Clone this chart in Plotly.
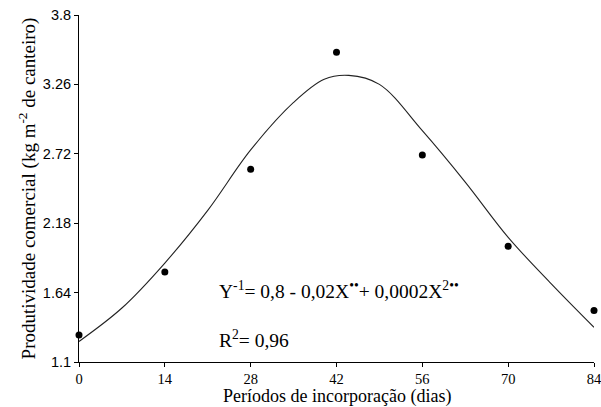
import plotly.graph_objects as go

# observed values (days, yield)
dias = [0, 14, 28, 42, 56, 70, 84]
produtividade = [1.31, 1.80, 2.60, 3.51, 2.71, 2.00, 1.50]

# fitted curve
dias_curva = [0, 7, 14, 21, 28, 35, 40, 44, 49, 56, 63, 70, 77, 84]
prod_curva = [1.26, 1.52, 1.87, 2.28, 2.75, 3.12, 3.30, 3.33, 3.26, 2.90, 2.50, 2.07, 1.71, 1.37]

x_ticks = [0, 14, 28, 42, 56, 70, 84]
y_ticks = [1.1, 1.64, 2.18, 2.72, 3.26, 3.8]

fig = go.Figure()

fig.add_trace(go.Scatter(
    x=dias_curva, y=prod_curva,
    mode='lines', line=dict(color='#222222', width=1.1, shape='spline', smoothing=1.0),
    showlegend=False, hoverinfo='skip',
))

fig.add_trace(go.Scatter(
    x=dias, y=produtividade,
    mode='markers', marker=dict(color='black', size=7),
    cliponaxis=False, showlegend=False,
))

serif = 'Liberation Serif, Times New Roman, serif'
sans = 'Liberation Sans, Arial, sans-serif'

fig.add_annotation(
    x=22.5, y=1.66, xref='x', yref='y', xanchor='left', showarrow=False,
    text='Y<sup>-1</sup>= 0,8 - 0,02X<sup>••</sup>+ 0,0002X<sup>2••</sup>',
    font=dict(family=serif, size=19.5, color='black'),
)
fig.add_annotation(
    x=22.5, y=1.28, xref='x', yref='y', xanchor='left', showarrow=False,
    text='R<sup>2</sup>= 0,96',
    font=dict(family=serif, size=19.5, color='black'),
)
# x axis title as annotation so it sits clear of the tick labels
fig.add_annotation(
    x=0.5, y=-0.10, xref='paper', yref='paper', xanchor='center', yanchor='middle',
    showarrow=False, text='Períodos de incorporação (dias)', borderpad=0,
    font=dict(family=serif, size=18, color='black'),
)

fig.update_layout(
    width=601, height=407,
    margin=dict(l=79, r=7, t=15, b=45),
    paper_bgcolor='white', plot_bgcolor='white',
    xaxis=dict(
        range=[0, 84], tickvals=x_ticks, ticktext=[str(v) for v in x_ticks],
        showgrid=False, zeroline=False, showline=True, linecolor='black', linewidth=1,
        ticks='outside', ticklen=4, tickcolor='black', ticklabeloverflow='allow',
        automargin=False,
        tickfont=dict(family=serif, size=14.5, color='black'),
    ),
    yaxis=dict(
        range=[1.1, 3.8], tickvals=y_ticks, ticktext=['1.1', '1.64', '2.18', '2.72', '3.26', '3.8'],
        showgrid=False, zeroline=False, showline=True, linecolor='black', linewidth=1,
        ticks='outside', ticklen=4, tickcolor='black', automargin=False,
        tickfont=dict(family=sans, size=14.5, color='black'),
        title=dict(text='Produtividade comercial (kg m<sup>-2</sup> de canteiro)', standoff=2,
                   font=dict(family=serif, size=19, color='black')),
    ),
)

fig.write_html("out.html", config={'displayModeBar': False},
               post_script="document.body.style.margin='0';")
